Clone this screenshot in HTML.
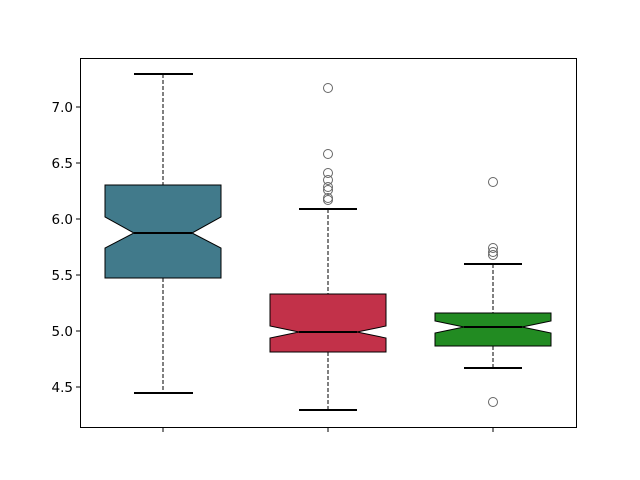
<!DOCTYPE html>
<html><head><meta charset="utf-8"><style>body{margin:0;background:#fff}svg{display:block}</style></head><body>
<svg width="640" height="480" xmlns="http://www.w3.org/2000/svg" font-family="DejaVu Sans, Liberation Sans, sans-serif">
<rect x="0" y="0" width="640" height="480" fill="#fff"/>
<rect x="80.5" y="58.5" width="496" height="369" fill="none" stroke="#000" stroke-width="1"/>
<g stroke="#000" stroke-width="1">
<line x1="76" y1="107" x2="80" y2="107"/><line x1="76" y1="163" x2="80" y2="163"/><line x1="76" y1="219" x2="80" y2="219"/><line x1="76" y1="275" x2="80" y2="275"/><line x1="76" y1="331" x2="80" y2="331"/><line x1="76" y1="387" x2="80" y2="387"/>
<line x1="163" y1="428" x2="163" y2="432"/><line x1="328" y1="428" x2="328" y2="432"/><line x1="493" y1="428" x2="493" y2="432"/>
</g>
<g font-size="13.5" fill="#000" text-anchor="end">
<text x="73" y="112">7.0</text><text x="73" y="168">6.5</text><text x="73" y="224">6.0</text><text x="73" y="280">5.5</text><text x="73" y="336">5.0</text><text x="73" y="392">4.5</text>
</g>
<g stroke="#000" stroke-width="1" stroke-dasharray="4,2" fill="none">
<line x1="163" y1="74" x2="163" y2="185"/><line x1="163" y1="278" x2="163" y2="393"/>
<line x1="328" y1="209" x2="328" y2="294"/><line x1="328" y1="352" x2="328" y2="410"/>
<line x1="493" y1="264" x2="493" y2="313"/><line x1="493" y1="346" x2="493" y2="368"/>
</g>
<g stroke="#000" stroke-width="2">
<line x1="134" y1="74" x2="193" y2="74"/><line x1="134" y1="393" x2="193" y2="393"/>
<line x1="299" y1="209" x2="357" y2="209"/><line x1="299" y1="410" x2="357" y2="410"/>
<line x1="464" y1="264" x2="522" y2="264"/><line x1="464" y1="368" x2="522" y2="368"/>
</g>
<g stroke="#000" stroke-width="1">
<path d="M105,185 L221,185 L221,217 L192,233 L221,248 L221,278 L105,278 L105,248 L134,233 L105,217 Z" fill="#417a8b"/>
<path d="M270,294 L386,294 L386,326 L357,332 L386,338 L386,352 L270,352 L270,338 L299,332 L270,326 Z" fill="#c23149"/>
<path d="M435,313 L551,313 L551,321 L522,327 L551,333 L551,346 L435,346 L435,333 L464,327 L435,321 Z" fill="#228b22"/>
</g>
<g stroke="#000" stroke-width="2">
<line x1="134" y1="233" x2="192" y2="233"/><line x1="299" y1="332" x2="357" y2="332"/><line x1="464" y1="327" x2="522" y2="327"/>
</g>
<g fill="none" stroke="#666" stroke-width="1">
<circle cx="328" cy="88" r="4.5"/><circle cx="328" cy="154" r="4.5"/><circle cx="328" cy="173" r="4.5"/><circle cx="328" cy="180" r="4.5"/><circle cx="328" cy="187" r="4.5"/><circle cx="328" cy="190" r="4.5"/><circle cx="328" cy="198" r="4.5"/><circle cx="328" cy="200" r="4.5"/>
<circle cx="493" cy="182" r="4.5"/><circle cx="493" cy="248" r="4.5"/><circle cx="493" cy="252" r="4.5"/><circle cx="493" cy="255" r="4.5"/><circle cx="493" cy="402" r="4.5"/>
</g>
</svg>
</body></html>
